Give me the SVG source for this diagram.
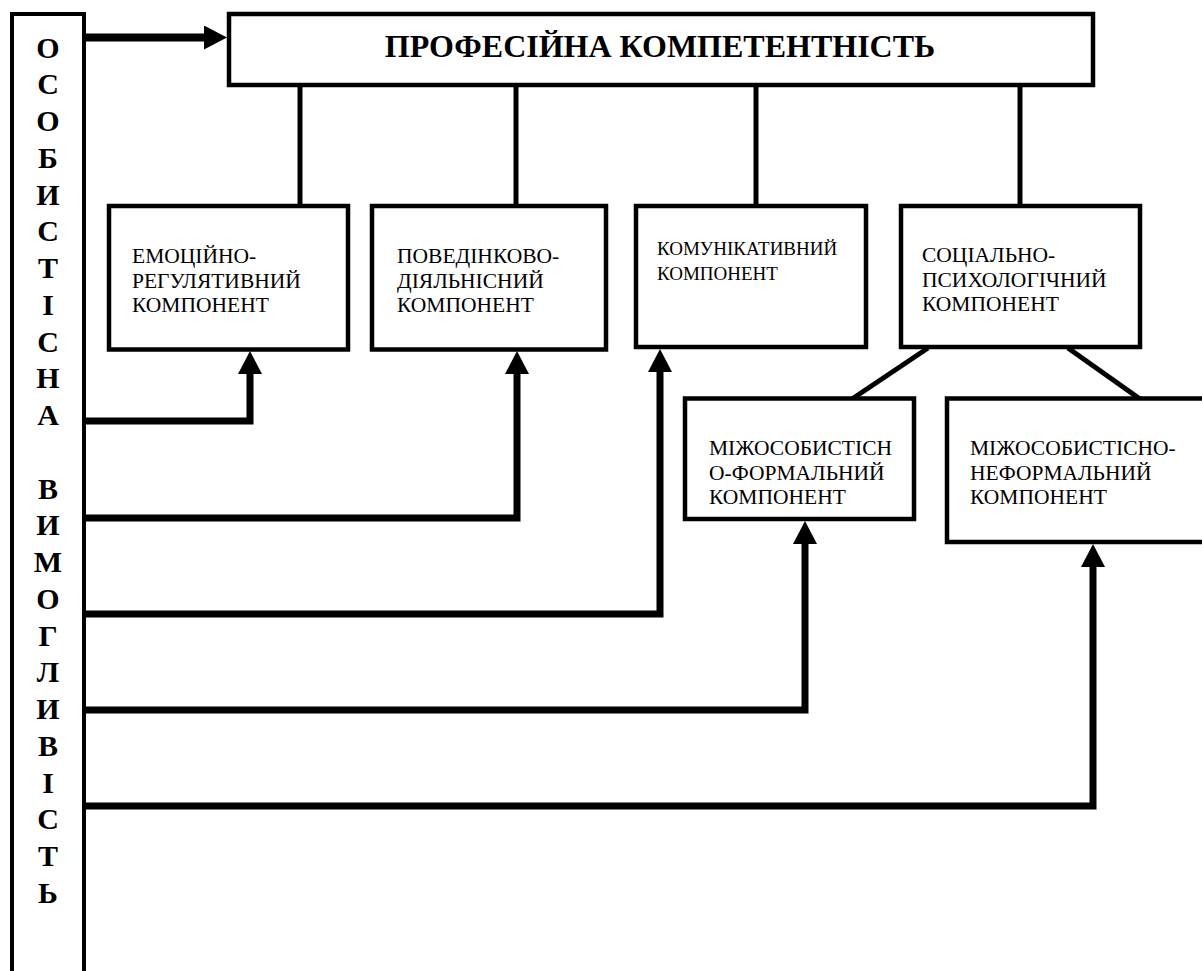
<svg xmlns="http://www.w3.org/2000/svg" width="1202" height="971" viewBox="0 0 1202 971">
<style>
.box{fill:#fff;stroke:#000;stroke-width:4.5}
.ln{fill:none;stroke:#000;stroke-width:5}
.con{fill:none;stroke:#000;stroke-width:7;stroke-linejoin:miter;stroke-linecap:butt}
.t{font-family:"Liberation Serif","Times New Roman",serif;font-size:21.5px;fill:#000}
.s{font-size:19px}
.v{font-family:"Liberation Serif","Times New Roman",serif;font-size:30px;font-weight:bold;fill:#000;text-anchor:middle}
.title{font-family:"Liberation Serif","Times New Roman",serif;font-size:32px;font-weight:bold;fill:#000;text-anchor:middle}
</style>
<defs>
<marker id="ah" markerUnits="userSpaceOnUse" markerWidth="23" markerHeight="24" refX="0" refY="12" orient="auto" viewBox="0 0 23 24">
<path d="M0,0 L23,12 L0,24 z" fill="#000"/>
</marker>
</defs>
<rect width="1202" height="971" fill="#fff"/>

<g id="bar">
<path d="M12,975 V14 H84 V975" fill="none" stroke="#000" stroke-width="4"/>
<text class="v" x="48" y="57.5">О</text>
<text class="v" x="48" y="94.25">С</text>
<text class="v" x="48" y="131">О</text>
<text class="v" x="48" y="167.75">Б</text>
<text class="v" x="48" y="204.5">И</text>
<text class="v" x="48" y="241.25">С</text>
<text class="v" x="48" y="278">Т</text>
<text class="v" x="48" y="314.75">І</text>
<text class="v" x="48" y="351.5">С</text>
<text class="v" x="48" y="388.25">Н</text>
<text class="v" x="48" y="425">А</text>
<text class="v" x="48" y="498.5">В</text>
<text class="v" x="48" y="535.25">И</text>
<text class="v" x="48" y="572">М</text>
<text class="v" x="48" y="608.75">О</text>
<text class="v" x="48" y="645.5">Г</text>
<text class="v" x="48" y="682.25">Л</text>
<text class="v" x="48" y="719">И</text>
<text class="v" x="48" y="755.75">В</text>
<text class="v" x="48" y="792.5">І</text>
<text class="v" x="48" y="829.25">С</text>
<text class="v" x="48" y="866">Т</text>
<text class="v" x="48" y="902.75">Ь</text>
</g>

<g id="connectors">
<path class="ln" d="M300,86 V205"/>
<path class="ln" d="M516,86 V205"/>
<path class="ln" d="M756,86 V205"/>
<path class="ln" d="M1020,86 V205"/>
<path class="ln" d="M928,348 L852,399"/>
<path class="ln" d="M1068,348 L1140,399"/>
<path class="con" style="stroke-width:8" d="M84,37.5 H204" marker-end="url(#ah)"/>
<path class="con" d="M84,421 H250 V374" marker-end="url(#ah)"/>
<path class="con" d="M84,518 H517 V374" marker-end="url(#ah)"/>
<path class="con" d="M84,614 H660 V372" marker-end="url(#ah)"/>
<path class="con" d="M84,710 H805 V544" marker-end="url(#ah)"/>
<path class="con" d="M84,806 H1093 V567" marker-end="url(#ah)"/>
</g>

<g id="top">
<rect class="box" x="229" y="14" width="864" height="71"/>
<text class="title" x="660" y="57">ПРОФЕСІЙНА КОМПЕТЕНТНІСТЬ</text>
</g>

<g id="box1">
<rect class="box" x="109" y="206" width="239" height="143.5"/>
<text class="t" x="132" y="263">ЕМОЦІЙНО-</text>
<text class="t" x="132" y="287.5">РЕГУЛЯТИВНИЙ</text>
<text class="t" x="132" y="312">КОМПОНЕНТ</text>
</g>
<g id="box2">
<rect class="box" x="372" y="206" width="234" height="143.5"/>
<text class="t" x="397" y="263">ПОВЕДІНКОВО-</text>
<text class="t" x="397" y="287.5">ДІЯЛЬНІСНИЙ</text>
<text class="t" x="397" y="312">КОМПОНЕНТ</text>
</g>
<g id="box3">
<rect class="box" x="636" y="206" width="230" height="141"/>
<text class="t s" x="657" y="255">КОМУНІКАТИВНИЙ</text>
<text class="t s" x="657" y="280">КОМПОНЕНТ</text>
</g>
<g id="box4">
<rect class="box" x="901" y="206" width="239" height="141"/>
<text class="t" x="922" y="262">СОЦІАЛЬНО-</text>
<text class="t" x="922" y="286.5">ПСИХОЛОГІЧНИЙ</text>
<text class="t" x="922" y="311">КОМПОНЕНТ</text>
</g>
<g id="box5">
<rect class="box" x="685" y="398.5" width="229" height="120.5"/>
<text class="t" x="709" y="455">МІЖОСОБИСТІСН</text>
<text class="t" x="709" y="479.5">О-ФОРМАЛЬНИЙ</text>
<text class="t" x="709" y="504">КОМПОНЕНТ</text>
</g>
<g id="box6">
<rect class="box" x="947" y="398.5" width="262" height="143.5"/>
<text class="t" x="970" y="455">МІЖОСОБИСТІСНО-</text>
<text class="t" x="970" y="479.5">НЕФОРМАЛЬНИЙ</text>
<text class="t" x="970" y="504">КОМПОНЕНТ</text>
</g>
</svg>
